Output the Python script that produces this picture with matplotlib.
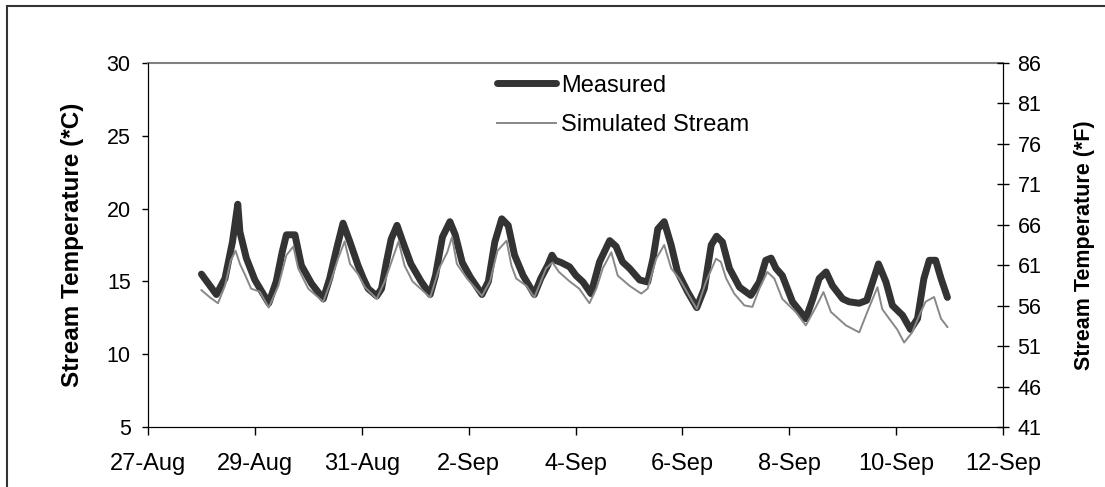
import datetime as dt

import matplotlib
matplotlib.use("Agg")
import matplotlib.pyplot as plt
import matplotlib.dates as mdates
from matplotlib.patches import Rectangle

plt.rcParams["font.family"] = ["Liberation Sans", "DejaVu Sans"]

# data: days after 27-Aug 00:00, temperature in °C
measured_days = [1.0, 1.28, 1.44, 1.58, 1.68, 1.72, 1.84, 2.0, 2.26, 2.40, 2.51, 2.59,
                 2.75, 2.87, 3.06, 3.28, 3.40, 3.53, 3.65, 3.78, 3.93, 4.03, 4.12, 4.28,
                 4.37, 4.46, 4.55, 4.66, 4.77, 4.92, 5.11, 5.28, 5.38, 5.51, 5.65, 5.75,
                 5.88, 6.03, 6.25, 6.37, 6.49, 6.62, 6.74, 6.86, 7.02, 7.23, 7.35, 7.48,
                 7.56, 7.62, 7.73, 7.89, 8.01, 8.14, 8.29, 8.45, 8.64, 8.76, 8.88, 9.01,
                 9.2, 9.35, 9.45, 9.54, 9.66, 9.79, 9.91, 10.1, 10.27, 10.41, 10.54, 10.64,
                 10.75, 10.88, 11.07, 11.28, 11.44, 11.56, 11.66, 11.75, 11.87, 12.06, 12.31,
                 12.44, 12.56, 12.69, 12.81, 13.0, 13.12, 13.31, 13.45, 13.52, 13.67, 13.81,
                 13.93, 14.12, 14.27, 14.4, 14.52, 14.62, 14.74, 14.84, 14.96]
measured_temp = [15.5, 14.1, 15.2, 17.7, 20.3, 18.4, 16.6, 15.1, 13.5, 15.0, 17.0, 18.2,
                 18.2, 16.1, 14.85, 13.8, 15.2, 17.25, 19.0, 17.7, 16.1, 15.2, 14.5, 14.0,
                 14.5, 16.3, 17.9, 18.85, 17.7, 16.2, 15.0, 14.1, 15.4, 18.05, 19.1, 18.2,
                 16.3, 15.3, 14.1, 15.0, 17.7, 19.3, 18.85, 16.8, 15.4, 14.1, 15.2, 16.1,
                 16.8, 16.45, 16.3, 16.0, 15.4, 14.96, 14.16, 16.34, 17.8, 17.4, 16.34, 15.9,
                 15.1, 14.96, 16.56, 18.6, 19.1, 17.5, 15.65, 14.27, 13.2, 14.5, 17.5, 18.1,
                 17.7, 15.9, 14.6, 14.04, 14.96, 16.45, 16.6, 15.9, 15.4, 13.6, 12.44,
                 13.8, 15.2, 15.65, 14.7, 13.8, 13.6, 13.5, 13.7, 14.5, 16.2, 14.96,
                 13.35, 12.67, 11.7, 12.44, 15.2, 16.45, 16.45, 15.2, 13.9]

simulated_days = [1.0, 1.16, 1.31, 1.44, 1.55, 1.64, 1.72, 1.81, 1.93, 2.09, 2.26, 2.44,
                  2.59, 2.72, 2.81, 3.0, 3.28, 3.43, 3.56, 3.68, 3.78, 3.93, 4.06, 4.28,
                  4.43, 4.58, 4.69, 4.80, 4.95, 5.28, 5.45, 5.60, 5.69, 5.78, 5.97, 6.25,
                  6.40, 6.54, 6.71, 6.80, 6.89, 7.08, 7.23, 7.45, 7.57, 7.69, 7.89, 8.07,
                  8.26, 8.39, 8.51, 8.67, 8.79, 9.01, 9.23, 9.35, 9.51, 9.66, 9.79, 9.94,
                  10.27, 10.44, 10.63, 10.72, 10.82, 10.97, 11.16, 11.31, 11.44, 11.59, 11.72,
                  11.87, 12.12, 12.31, 12.5, 12.64, 12.78, 13.06, 13.31, 13.46, 13.65, 13.74,
                  13.87, 14.02, 14.15, 14.3, 14.45, 14.55, 14.71, 14.84, 14.96]
simulated_temp = [14.4, 13.9, 13.5, 14.7, 16.45, 17.1, 16.2, 15.5, 14.5, 14.3, 13.2, 14.7,
                  16.8, 17.4, 15.9, 14.5, 13.6, 15.1, 16.6, 17.75, 16.2, 15.5, 14.6, 13.8,
                  15.0, 16.6, 17.75, 16.1, 15.0, 13.9, 15.9, 17.0, 18.05, 16.2, 15.2, 14.0,
                  15.0, 17.1, 17.8, 16.1, 15.2, 14.7, 13.9, 15.9, 16.3, 15.65, 15.0, 14.5,
                  13.5, 14.5, 15.9, 17.0, 15.4, 14.7, 14.16, 14.5, 16.56, 17.5, 15.9, 15.2,
                  13.1, 14.96, 16.56, 16.34, 15.2, 14.16, 13.35, 13.25, 14.5, 15.65, 15.2,
                  13.8, 12.9, 11.98, 13.25, 14.27, 12.9, 11.98, 11.5, 12.9, 14.6, 13.1,
                  12.44, 11.7, 10.8, 11.5, 12.8, 13.6, 13.93, 12.44, 11.87]

start = dt.datetime(2003, 8, 27)
celsius_ticks = [5, 10, 15, 20, 25, 30]
fahrenheit_ticks = [41, 46, 51, 56, 61, 66, 71, 76, 81, 86]


def to_dates(days):
    return [start + dt.timedelta(days=d) for d in days]


def main():
    fig = plt.figure(figsize=(11.05, 4.87), dpi=100)
    W, H = 1105, 487
    ax = fig.add_axes([148 / W, 1 - 427 / H, (1003 - 148) / W, (427 - 63) / H])

    # outer chart frame (cropped at the right and bottom)
    fig.add_artist(Rectangle((7 / W, -0.2), 1.2, 1.2 - 5.5 / H,
                             transform=fig.transFigure, fill=False,
                             edgecolor="#333333", linewidth=1.5))

    ax.plot(to_dates(measured_days), measured_temp, color="#333333", lw=5,
            solid_capstyle="round", label="Measured")
    ax.plot(to_dates(simulated_days), simulated_temp, color="#888888", lw=1.4,
            label="Simulated Stream")

    ax.set_xlim(start, start + dt.timedelta(days=16))
    ax.set_ylim(5, 30)
    ax.set_yticks(celsius_ticks)
    ax.xaxis.set_major_locator(mdates.DayLocator(interval=2))
    ax.xaxis.set_major_formatter(
        plt.FuncFormatter(lambda v, _: f"{mdates.num2date(v).day}-{mdates.num2date(v):%b}"))
    ax.tick_params(axis="x", direction="out", length=5.5, width=1, labelsize=17, pad=13)
    ax.tick_params(axis="y", direction="out", length=4.5, width=1, labelsize=15.5, pad=8)
    ax.set_ylabel("Stream Temperature (*C)", fontsize=17.5, fontweight="bold")
    ax.yaxis.set_label_coords((84 - 148) / 855, 0.5)
    ax.spines["top"].set_color("#808080")
    ax.spines["top"].set_linewidth(1.5)

    ax2 = ax.twinx()
    ax2.set_ylim(41, 86)
    ax2.set_yticks(fahrenheit_ticks)
    ax2.tick_params(axis="y", direction="inout", length=9, width=1, labelsize=15.5, pad=6)
    ax2.set_ylabel("Stream Temperature (*F)", fontsize=15.5, fontweight="bold")
    ax2.yaxis.set_label_coords((1074 - 148) / 855, 0.5)
    ax2.spines["top"].set_visible(False)

    ax.legend(loc="upper left", bbox_to_anchor=((497 - 148) / 855, 0.968),
              frameon=False, fontsize=17, handlelength=2.5, handletextpad=0.2,
              borderpad=0, borderaxespad=0, labelspacing=0.75)

    plt.savefig("out.png", dpi=100)


if __name__ == "__main__":
    main()
